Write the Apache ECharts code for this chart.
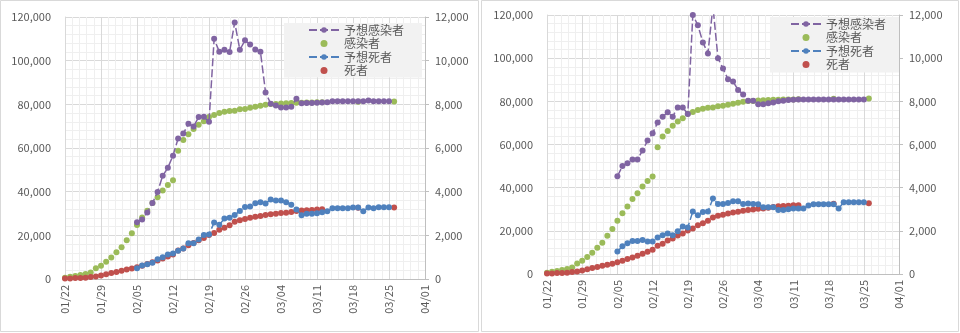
<!DOCTYPE html>
<html><head><meta charset="utf-8">
<script src="https://cdn.jsdelivr.net/npm/echarts@6/dist/echarts.min.js"></script>
<style>html,body{margin:0;padding:0;background:#fff}#c{width:960px;height:333px}</style>
</head><body><div id="c"></div>
<script>
// Days from 01/22 to 03/26 (index = day offset)
const dates = ['01/22','01/23','01/24','01/25','01/26','01/27','01/28','01/29','01/30','01/31',
 '02/01','02/02','02/03','02/04','02/05','02/06','02/07','02/08','02/09','02/10','02/11','02/12','02/13','02/14','02/15','02/16','02/17','02/18','02/19','02/20','02/21','02/22','02/23','02/24','02/25','02/26','02/27','02/28','02/29',
 '03/01','03/02','03/03','03/04','03/05','03/06','03/07','03/08','03/09','03/10','03/11','03/12','03/13','03/14','03/15','03/16','03/17','03/18','03/19','03/20','03/21','03/22','03/23','03/24','03/25','03/26'];
const xTickLabels = ['01/22','01/29','02/05','02/12','02/19','02/26','03/04','03/11','03/18','03/25','04/01'];
const seriesNames = ['予想感染者','感染者','予想死者','死者'];
const _ = null;
// 感染者 (actual cases, left axis)
const confirmed = [600,1000,1400,1800,2300,3000,4900,6100,7900,9900,
 12200,14500,17700,20900,24700,28200,31300,34800,37400,40500,43100,45200,58700,63700,66300,68700,70600,72200,74200,75100,
 76000,76600,77000,77100,77700,77900,78400,78900,79300,79800,80100,80200,80400,80500,80600,80700,80750,80800,80850,80900,
 80950,_,_,_,_,_,_,81200,_,_,_,_,_,_,81350];
// 死者 (actual deaths, right axis)
const deaths = [20,20,50,50,60,90,120,160,220,280,
 320,380,430,480,540,610,690,770,850,940,1030,1120,1310,1400,1550,1650,1780,1880,2010,2110,
 2260,2350,2465,2620,2695,2750,2800,2850,2880,2930,2970,2990,3020,3040,3070,3110,3140,3150,3160,3180,
 3190,_,_,_,_,_,_,3260,_,_,_,_,_,_,3280];
// Left panel forecasts
const predCasesL = [_,_,_,_,_,_,_,_,_,_,_,_,_,_,
 26000,27300,30500,34800,39900,47300,51000,56500,64400,66600,71100,69800,74200,74300,72000,
 110000,104100,105000,104000,117500,105000,109300,107400,105100,104100,85400,80300,79500,78600,78600,78900,82600,80500,80600,80600,80700,
 80800,80900,81400,81400,81400,81400,81400,81400,81400,81800,81400,81400,81400,81400,_];
const predDeathsL = [_,_,_,_,_,_,_,_,_,_,_,_,_,_,
 490,620,670,740,900,1000,1120,1170,1290,1400,1640,1640,1810,2020,2040,
 2590,2480,2770,2810,2930,3120,3300,3320,3470,3510,3460,3640,3600,3600,3510,3400,3180,2920,2990,2990,3010,
 3060,3100,3240,3240,3240,3240,3270,3270,3100,3280,3240,3290,3290,3290,_];
// Right panel forecasts
const predCasesR = [_,_,_,_,_,_,_,_,_,_,_,_,_,_,
 45300,50000,51300,53100,53100,57200,61800,65200,70200,72900,74900,72900,77200,77200,74100,
 120000,115300,107300,102200,124000,100000,95200,90200,89200,85300,83200,80300,80300,78600,78600,79100,79500,80000,80300,80600,80700,
 80800,80900,80900,80900,80900,80900,80900,80900,80900,80900,80900,80900,80900,80900,_];
const predDeathsR = [_,_,_,_,_,_,_,_,_,_,_,_,_,_,
 1040,1280,1430,1530,1530,1570,1510,1510,1690,1790,1880,1790,1980,2200,2160,
 2900,2720,2870,2900,3500,3240,3240,3290,3370,3370,3240,3270,3240,3230,3090,3090,3090,2970,2970,3000,3040,
 3040,3040,3170,3230,3230,3230,3230,3230,3030,3320,3320,3320,3320,3320,_];

const FONT = '"Noto Sans CJK JP", "Noto Sans", sans-serif';
const C_PRED_CASE = '#8064a2', C_CASE = '#9bbb59', C_PRED_DEATH = '#4f81bd', C_DEATH = '#c0504d';
const LABEL = '#595959', MAJOR = '#d9d9d9', MINOR = '#efefef';

const pairs = arr => arr.map((v, i) => [i, v]);
const pts = arr => arr.map((v, i) => [i, v]).filter(p => p[1] !== null);
const fmt = v => String(v).replace(/\B(?=(\d{3})+(?!\d))/g, ',');

const grids = [
  {left: 65, top: 17, width: 360, height: 262},
  {left: 547, top: 15, width: 352, height: 259}
];
const xAxes = [], yAxes = [], series = [];
[0, 1].forEach(g => {
  xAxes.push({
    type: 'value', gridIndex: g, min: 0, max: 70, interval: 7,
    axisLine: {show: true, lineStyle: {color: '#bfbfbf'}},
    axisTick: {show: false},
    minorTick: {show: false, splitNumber: 5},
    minorSplitLine: {show: true, lineStyle: {color: MINOR}},
    splitLine: {show: true, lineStyle: {color: MAJOR}},
    axisLabel: {rotate: 90, margin: 6, color: LABEL, fontSize: 11, fontFamily: FONT,
      formatter: v => xTickLabels[Math.round(v / 7)] || ''}
  });
  yAxes.push({
    type: 'value', gridIndex: g, position: 'left', min: 0, max: 120000, interval: 20000,
    axisLine: {show: true, lineStyle: {color: MAJOR}},
    axisTick: {show: false},
    minorTick: {show: false, splitNumber: 5},
    minorSplitLine: {show: true, lineStyle: {color: MINOR}},
    splitLine: {show: true, lineStyle: {color: MAJOR}},
    axisLabel: {margin: 14, color: LABEL, fontSize: 11, fontFamily: FONT, formatter: fmt}
  });
  yAxes.push({
    type: 'value', gridIndex: g, position: 'right', min: 0, max: 12000, interval: 2000,
    axisLine: {show: true, lineStyle: {color: '#bfbfbf'}},
    axisTick: {show: true, length: 4, lineStyle: {color: '#bfbfbf'}},
    splitLine: {show: false},
    axisLabel: {margin: 10, color: LABEL, fontSize: 11, fontFamily: FONT, formatter: fmt}
  });
  const pc = g === 0 ? predCasesL : predCasesR;
  const pd = g === 0 ? predDeathsL : predDeathsR;
  const lineCommon = {type: 'line', symbol: 'circle', symbolSize: 6, showSymbol: true, showAllSymbol: true,
    clip: true, connectNulls: false, animation: false, xAxisIndex: g};
  series.push(Object.assign({}, lineCommon, {
    name: seriesNames[0], yAxisIndex: 2 * g, data: pairs(pc),
    itemStyle: {color: C_PRED_CASE}, lineStyle: {color: C_PRED_CASE, width: 1.5, type: [8, 3]}
  }));
  series.push({
    type: 'scatter', name: seriesNames[1], xAxisIndex: g, yAxisIndex: 2 * g, symbolSize: 6,
    data: pts(confirmed), itemStyle: {color: C_CASE, opacity: 1}, animation: false
  });
  series.push(Object.assign({}, lineCommon, {
    name: seriesNames[2], yAxisIndex: 2 * g + 1, data: pairs(pd),
    itemStyle: {color: C_PRED_DEATH}, lineStyle: {color: C_PRED_DEATH, width: 1.5, type: [8, 3]}
  }));
  series.push({
    type: 'scatter', name: seriesNames[3], xAxisIndex: g, yAxisIndex: 2 * g + 1, symbolSize: 6,
    data: pts(deaths), itemStyle: {color: C_DEATH, opacity: 1}, animation: false
  });
});

const legendCommon = {
  orient: 'vertical', backgroundColor: '#f2f2f2', itemWidth: 30, itemHeight: 7, itemGap: 1.5,
  selectedMode: false, data: seriesNames,
  textStyle: {color: LABEL, fontSize: 12, fontFamily: FONT}
};
const chart = echarts.init(document.getElementById('c'), null, {renderer: 'canvas'});
chart.setOption({
  backgroundColor: '#ffffff',
  animation: false,
  grid: grids,
  xAxis: xAxes,
  yAxis: yAxes,
  legend: [
    Object.assign({}, legendCommon, {left: 284, top: 23, padding: [1, 18, 1, 24]}),
    Object.assign({}, legendCommon, {left: 770, top: 17, padding: [1, 13, 2, 20]})
  ],
  graphic: [
    {type: 'rect', shape: {x: 0.5, y: 0.5, width: 478, height: 331}, style: {fill: 'none', stroke: '#d9d9d9', lineWidth: 1}, silent: true},
    {type: 'rect', shape: {x: 481.5, y: 0.5, width: 477, height: 331}, style: {fill: 'none', stroke: '#d9d9d9', lineWidth: 1}, silent: true}
  ],
  series: series
});
</script></body></html>
